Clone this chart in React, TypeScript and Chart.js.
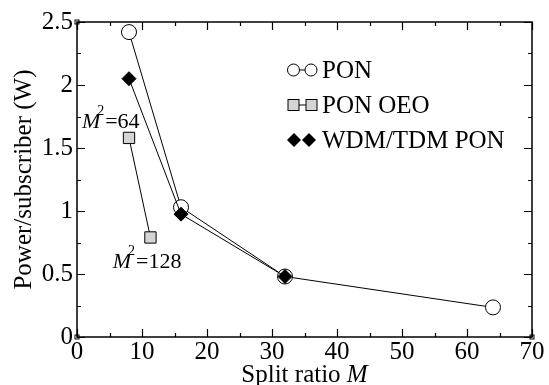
import React, { useEffect, useRef } from "react";
import { Chart, registerables } from "chart.js";

Chart.register(...registerables);

const xPON = [8, 16, 32, 64];
const yPON = [2.42, 1.03, 0.48, 0.235];
const xOEO = [8, 11.3];
const yOEO = [1.58, 0.79];
const xWDM = [8, 16, 32];
const yWDM = [2.05, 0.975, 0.48];

const legendLabels = ["PON", "PON OEO", "WDM/TDM PON"];
const annotations = [
  { x: 0.75, y: 1.66, text: "=64" },
  { x: 5.5, y: 0.55, text: "=128" },
];

const SERIF = "'Liberation Serif', 'Times New Roman', serif";
const GRAY = "#d4d4d4";

function drawCircle(ctx: CanvasRenderingContext2D, x: number, y: number, r: number) {
  ctx.beginPath();
  ctx.arc(x, y, r, 0, Math.PI * 2);
  ctx.fillStyle = "#fff";
  ctx.fill();
  ctx.stroke();
}
function drawSquare(ctx: CanvasRenderingContext2D, x: number, y: number, s: number) {
  ctx.fillStyle = GRAY;
  ctx.fillRect(x - s / 2, y - s / 2, s, s);
  ctx.strokeRect(x - s / 2, y - s / 2, s, s);
}
function drawDiamond(ctx: CanvasRenderingContext2D, x: number, y: number, r: number) {
  ctx.beginPath();
  ctx.moveTo(x - r, y);
  ctx.lineTo(x, y - r);
  ctx.lineTo(x + r, y);
  ctx.lineTo(x, y + r);
  ctx.closePath();
  ctx.fillStyle = "#000";
  ctx.fill();
}

const framePlugin = {
  id: "frameAndExtras",
  afterDraw(chart: any) {
    const ctx: CanvasRenderingContext2D = chart.ctx;
    const { left, right, top, bottom } = chart.chartArea;
    const xs = chart.scales.x;
    const ys = chart.scales.y;
    ctx.save();
    ctx.strokeStyle = "#000";
    ctx.lineWidth = 1.5;
    ctx.strokeRect(left, top, right - left, bottom - top);
    ctx.lineWidth = 1.2;
    ctx.beginPath();
    for (let v = 0; v <= 70; v += 5) {
      const px = Math.round(xs.getPixelForValue(v)) + 0.5;
      const len = v % 10 === 0 ? 8 : 4;
      ctx.moveTo(px, bottom);
      ctx.lineTo(px, bottom - len);
      ctx.moveTo(px, top);
      ctx.lineTo(px, top + len);
    }
    for (let i = 0; i <= 10; i++) {
      const v = i * 0.25;
      const py = Math.round(ys.getPixelForValue(v)) + 0.5;
      const len = i % 2 === 0 ? 8 : 4;
      ctx.moveTo(left, py);
      ctx.lineTo(left + len, py);
      ctx.moveTo(right, py);
      ctx.lineTo(right - len, py);
    }
    ctx.stroke();
    // corner squares
    ctx.lineWidth = 1;
    [[left, top], [left, bottom], [right, bottom]].forEach(([cx, cy]) => {
      ctx.strokeRect(cx - 2, cy - 2, 4, 4);
    });

    // x-axis title
    ctx.fillStyle = "#000";
    ctx.textBaseline = "alphabetic";
    const fN = `25px ${SERIF}`;
    const fI = `italic 25px ${SERIF}`;
    ctx.font = fN;
    const w1 = ctx.measureText("Split ratio ").width;
    ctx.font = fI;
    const w2 = ctx.measureText("M").width;
    const cx = (left + right) / 2;
    const sx = cx - (w1 + w2) / 2;
    ctx.font = fN;
    ctx.textAlign = "left";
    ctx.fillText("Split ratio ", sx, 382);
    ctx.font = fI;
    ctx.fillText("M", sx + w1, 382);

    // annotations
    annotations.forEach((a) => {
      const ax = xs.getPixelForValue(a.x);
      const ay = ys.getPixelForValue(a.y);
      ctx.font = `italic 22px ${SERIF}`;
      const mw = ctx.measureText("M").width;
      ctx.fillText("M", ax, ay);
      ctx.font = `14px ${SERIF}`;
      const sw = ctx.measureText("2").width;
      ctx.fillText("2", ax + mw - 3, ay - 13);
      ctx.font = `22px ${SERIF}`;
      ctx.fillText(a.text, ax + mw - 3 + sw + 1, ay);
    });

    // legend
    const lx = left + 210;
    const rows = [top + 48, top + 83, top + 118];
    ctx.lineWidth = 1;
    ctx.strokeStyle = "#000";
    // PON
    ctx.beginPath();
    ctx.moveTo(lx + 6, rows[0]);
    ctx.lineTo(lx + 24, rows[0]);
    ctx.stroke();
    drawCircle(ctx, lx + 6.5, rows[0], 6);
    drawCircle(ctx, lx + 24, rows[0], 6);
    // OEO
    ctx.beginPath();
    ctx.moveTo(lx + 6, rows[1]);
    ctx.lineTo(lx + 24, rows[1]);
    ctx.stroke();
    drawSquare(ctx, lx + 6.5, rows[1], 11);
    drawSquare(ctx, lx + 24.5, rows[1], 11);
    // WDM
    drawDiamond(ctx, lx + 7, rows[2], 7);
    drawDiamond(ctx, lx + 22, rows[2], 7);
    ctx.fillStyle = "#000";
    ctx.font = `25px ${SERIF}`;
    ctx.textBaseline = "middle";
    legendLabels.forEach((t, i) => ctx.fillText(t, lx + 35, rows[i] + 1));
    ctx.restore();
  },
};

export default function App() {
  const ref = useRef<HTMLCanvasElement>(null);
  useEffect(() => {
    document.body.style.margin = "0";
    const toPts = (xs: number[], ys: number[]) => xs.map((x, i) => ({ x, y: ys[i] }));
    const chart = new Chart(ref.current!, {
      type: "scatter",
      data: {
        datasets: [
          {
            label: "PON",
            data: toPts(xPON, yPON),
            showLine: true,
            borderColor: "#000",
            borderWidth: 1,
            pointStyle: "circle",
            pointRadius: 7.5,
            pointBackgroundColor: "#fff",
            pointBorderColor: "#000",
            pointBorderWidth: 1,
            order: 3,
          },
          {
            label: "PON OEO",
            data: toPts(xOEO, yOEO),
            showLine: true,
            borderColor: "#000",
            borderWidth: 1,
            pointStyle: "rect",
            pointRadius: 8,
            pointBackgroundColor: GRAY,
            pointBorderColor: "#000",
            pointBorderWidth: 1,
            order: 2,
          },
          {
            label: "WDM/TDM PON",
            data: toPts(xWDM, yWDM),
            showLine: true,
            borderColor: "#000",
            borderWidth: 1,
            pointStyle: "rectRot",
            pointRadius: 7,
            pointBackgroundColor: "#000",
            pointBorderColor: "#000",
            pointBorderWidth: 1,
            order: 1,
          },
        ],
      },
      options: {
        responsive: false,
        animation: false,
        events: [],
        layout: { padding: { top: 22, right: 17, left: 0, bottom: 0 } },
        plugins: { legend: { display: false }, tooltip: { enabled: false } },
        scales: {
          x: {
            type: "linear",
            min: 0,
            max: 70,
            grid: { display: false, drawTicks: false },
            border: { display: false },
            ticks: {
              stepSize: 10,
              color: "#000",
              padding: 0,
              font: { family: SERIF, size: 25 },
              callback: (v: any) => String(Number(v)),
            },
            afterFit: (s: any) => {
              s.height = 48;
            },
          },
          y: {
            type: "linear",
            min: 0,
            max: 2.5,
            grid: { display: false, drawTicks: false },
            border: { display: false },
            ticks: {
              stepSize: 0.5,
              color: "#000",
              padding: 4,
              font: { family: SERIF, size: 25 },
              callback: (v: any) => String(Number(v)),
            },
            title: {
              display: true,
              text: "Power/subscriber (W)",
              color: "#000",
              font: { family: SERIF, size: 25 },
              padding: { top: 9, bottom: 0 },
            },
            afterFit: (s: any) => {
              s.width = 77;
            },
          },
        },
      },
      plugins: [framePlugin],
    } as any);
    return () => chart.destroy();
  }, []);
  return (
    <div style={{ position: "absolute", left: 0, top: 0, width: 549, height: 385, background: "#fff" }}>
      <canvas ref={ref} width={549} height={385} style={{ display: "block" }} />
    </div>
  );
}
